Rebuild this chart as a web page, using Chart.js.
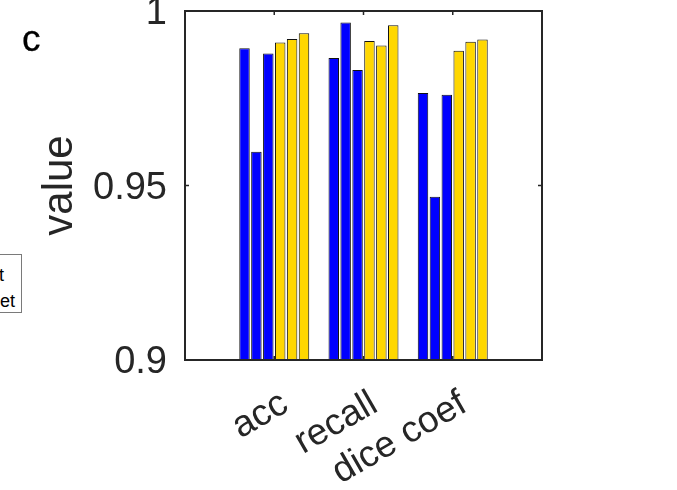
<!DOCTYPE html>
<html><head><meta charset="utf-8">
<script src="https://cdn.jsdelivr.net/npm/chart.js@4/dist/chart.umd.min.js"></script>
<style>
html,body{margin:0;padding:0;background:#fff;}
#wrap{position:relative;width:677px;height:490px;overflow:hidden;background:#fff;}
canvas{position:absolute;left:0;top:0;}
#panel{position:absolute;left:22px;top:20px;font:37px "Liberation Sans",Arial,sans-serif;line-height:1;color:#000;-webkit-text-stroke:0.3px #000;}
#legend{position:absolute;box-sizing:border-box;left:-118px;top:254px;width:140px;height:59px;border:1.5px solid #7a7a7a;background:#fff;overflow:hidden;font:18px "Liberation Sans",Arial,sans-serif;line-height:18px;color:#000;}
#legend span{position:absolute;white-space:nowrap;}
</style></head><body>
<div id="wrap">
<canvas id="c" width="677" height="490"></canvas>
<div id="panel">c</div>
<div id="legend"><span style="right:17px;top:11px">t</span><span style="right:6px;top:37px">et</span></div>
</div>
<script>
const categories = ['acc', 'recall', 'dice coef'];
const blue1 = [0.9893, 0.9865, 0.9765];
const blue2 = [0.9597, 0.9967, 0.9468];
const blue3 = [0.9878, 0.9831, 0.9760];
const gold1 = [0.9910, 0.9914, 0.9886];
const gold2 = [0.9920, 0.9901, 0.9912];
const gold3 = [0.9936, 0.9959, 0.9918];
const yTicks = [0.9, 0.95, 1];
const yLabel = 'value';

const BLUE = '#0000ff', GOLD = '#ffd700';
const pad = v => [null, ...v, null];
const series = [[blue1, BLUE], [blue2, BLUE], [blue3, BLUE], [gold1, GOLD], [gold2, GOLD], [gold3, GOLD]];
const FONT = '"Liberation Sans", Arial, sans-serif';

const boxPlugin = {
  id: 'box',
  afterDatasetsDraw(chart) {
    const {ctx, chartArea: a, scales: {x, y}} = chart;
    ctx.save();
    ctx.strokeStyle = '#262626';
    ctx.lineWidth = 2;
    ctx.strokeRect(a.left, a.top, a.right - a.left, a.bottom - a.top);
    ctx.lineWidth = 1.5;
    const L = 4;
    ctx.beginPath();
    for (let i = 1; i <= categories.length; i++) {
      const px = x.getPixelForValue(i);
      ctx.moveTo(px, a.bottom); ctx.lineTo(px, a.bottom - L);
      ctx.moveTo(px, a.top); ctx.lineTo(px, a.top + L);
    }
    yTicks.forEach(t => {
      const py = y.getPixelForValue(t);
      ctx.moveTo(a.left, py); ctx.lineTo(a.left + L, py);
      ctx.moveTo(a.right, py); ctx.lineTo(a.right - L, py);
    });
    ctx.stroke();
    ctx.restore();
  }
};

new Chart(document.getElementById('c'), {
  type: 'bar',
  data: {
    labels: ['', ...categories, ''],
    datasets: series.map(([v, c], i) => ({
      label: 'series ' + (i + 1),
      data: pad(v),
      backgroundColor: c,
      borderColor: '#111',
      borderWidth: 1,
      categoryPercentage: 0.8,
      barPercentage: 0.88
    }))
  },
  options: {
    responsive: false,
    animation: false,
    devicePixelRatio: 1,
    layout: {padding: {left: 0, top: 11, right: 135, bottom: 0}},
    plugins: {legend: {display: false}, tooltip: {enabled: false}},
    scales: {
      x: {
        type: 'category',
        offset: false,
        grid: {display: false, drawTicks: false},
        border: {display: false},
        ticks: {
          autoSkip: false, maxRotation: 30, minRotation: 30,
          padding: 22,
          labelOffset: 11,
          color: '#262626',
          font: {family: FONT, size: 37}
        },
        afterFit(s) { s.height = 130; s.paddingLeft = 0; s.paddingRight = 0; }
      },
      y: {
        min: 0.9, max: 1,
        grid: {display: false, drawTicks: false},
        border: {display: false},
        afterBuildTicks(s) { s.ticks = yTicks.map(v => ({value: v})); },
        ticks: {
          padding: 18,
          labelOffset: 3,
          color: '#262626',
          font: {family: FONT, size: 38},
          callback: v => String(+Number(v).toFixed(2))
        },
        title: {
          display: true, text: yLabel, color: '#262626',
          font: {family: FONT, size: 42},
          padding: {top: 35, bottom: 0}
        },
        afterFit(s) { s.width = 185; s.paddingTop = 0; s.paddingBottom = 0; }
      }
    }
  },
  plugins: [boxPlugin]
});
</script>
</body></html>
